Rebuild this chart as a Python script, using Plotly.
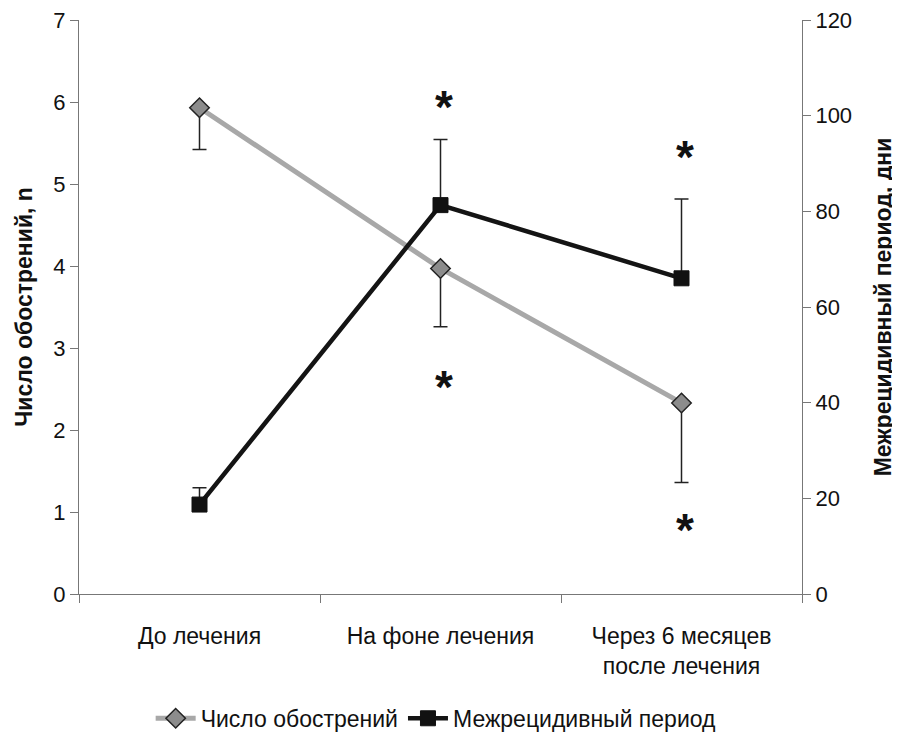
import plotly.graph_objects as go

categories = ["До лечения", "На фоне лечения", "Через 6 месяцев<br>после лечения"]
exacerbations = [5.93, 3.97, 2.33]
exacerbations_err_minus = [0.51, 0.71, 0.97]
interval_days = [18.7, 81.3, 66.0]
interval_err_plus = [3.5, 13.7, 16.6]
star_x = [categories[1], categories[1], categories[2], categories[2]]
star_y = [6.03, 2.61, 5.42, 0.87]

FONT = "Liberation Sans, Arial, sans-serif"

fig = go.Figure()
fig.add_trace(go.Scatter(
    x=categories, y=exacerbations, name="Число обострений",
    mode="lines+markers",
    line=dict(color="#a8a8a8", width=5),
    marker=dict(symbol="diamond", size=15, color="#8c8c8c", line=dict(color="#222", width=1.5)),
    error_y=dict(type="data", symmetric=False, array=[0, 0, 0], arrayminus=exacerbations_err_minus,
                 color="#222", thickness=1.5, width=7),
    yaxis="y",
))
fig.add_trace(go.Scatter(
    x=categories, y=interval_days, name="Межрецидивный период",
    mode="lines+markers",
    line=dict(color="#141414", width=4.5),
    marker=dict(symbol="square", size=15, color="#111", line=dict(color="#111", width=1)),
    error_y=dict(type="data", symmetric=False, array=interval_err_plus, arrayminus=[0, 0, 0],
                 color="#222", thickness=1.5, width=7),
    yaxis="y2",
))

for sx, sy in zip(star_x, star_y):
    fig.add_annotation(x=sx, y=sy, xref="x", yref="y", text="<b>*</b>", showarrow=False,
                       font=dict(family=FONT, size=46, color="#111"), yanchor="middle",
                       yshift=-7, xshift=3)

fig.update_layout(
    width=900, height=744,
    margin=dict(l=71, r=106, t=12, b=155),
    paper_bgcolor="white", plot_bgcolor="white",
    font=dict(family=FONT, color="#111"),
    showlegend=True,
    legend=dict(orientation="h", x=0.494, xanchor="center", y=-0.2166, yanchor="middle",
                font=dict(size=23), itemwidth=40, tracegroupgap=0),
    xaxis=dict(
        range=[-0.5, 2.5], automargin=False,
        showline=True, linecolor="#777", linewidth=1,
        ticks="outside", tickson="boundaries", ticklen=8, tickcolor="#777",
        tickfont=dict(size=23), ticklabelstandoff=21, showgrid=False, zeroline=False,
    ),
    yaxis=dict(
        range=[0, 7], dtick=1, automargin=False, showline=True, linecolor="#777", linewidth=1,
        ticks="outside", ticklen=8, tickcolor="#777", showgrid=False, zeroline=False,
        tickfont=dict(size=22), ticklabeloverflow="allow",
        title=dict(text="<b>Число обострений, n</b>", font=dict(size=23), standoff=14),
    ),
    yaxis2=dict(
        range=[0, 120], dtick=20, overlaying="y", side="right", automargin=False,
        showline=True, linecolor="#777", linewidth=1,
        ticks="outside", ticklen=8, tickcolor="#777", showgrid=False, zeroline=False,
        tickfont=dict(size=22), ticklabeloverflow="allow",
        title=dict(text="<b>Межрецидивный период, дни</b>", font=dict(size=23), standoff=23),
    ),
)

fig.write_html("out.html")
